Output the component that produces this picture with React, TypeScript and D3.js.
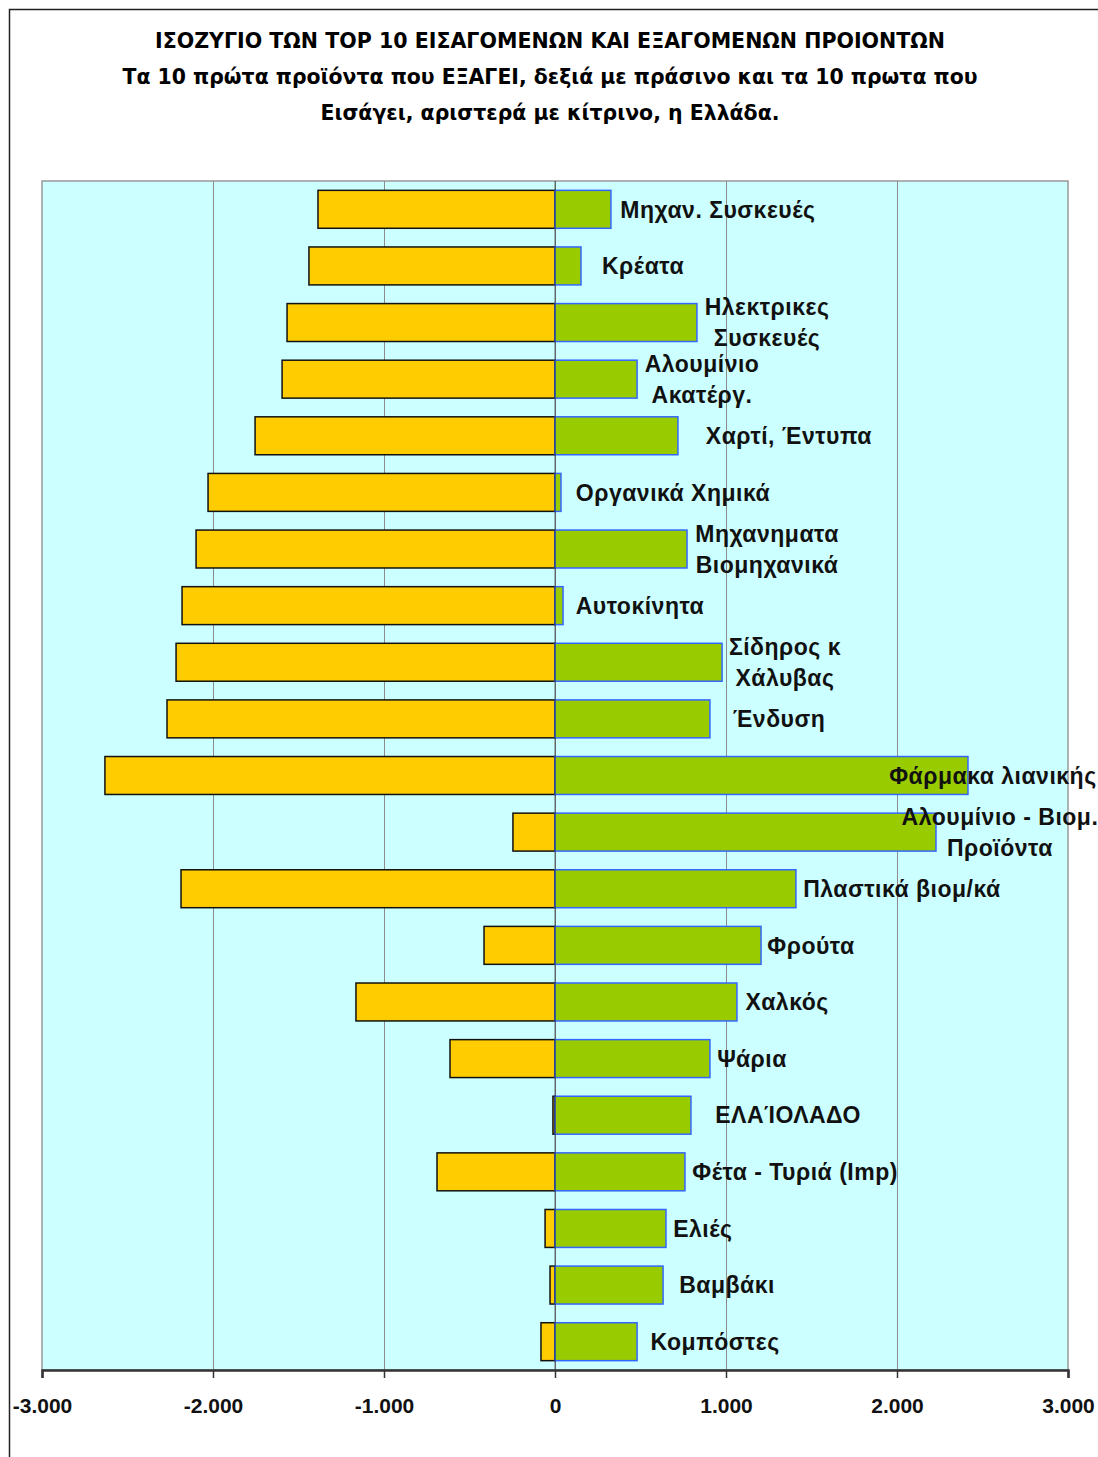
import { useEffect, useRef } from "react";
import * as d3 from "d3";

// categories top to bottom
const categories = [
  ["Μηχαν. Συσκευές"],
  ["Κρέατα"],
  ["Ηλεκτρικες", "Συσκευές"],
  ["Αλουμίνιο", "Ακατέργ."],
  ["Χαρτί, Έντυπα"],
  ["Οργανικά Χημικά"],
  ["Μηχανηματα", "Βιομηχανικά"],
  ["Αυτοκίνητα"],
  ["Σίδηρος κ", "Χάλυβας"],
  ["Ένδυση"],
  ["Φάρμακα λιανικής"],
  ["Αλουμίνιο - Βιομ.", "Προϊόντα"],
  ["Πλαστικά βιομ/κά"],
  ["Φρούτα"],
  ["Χαλκός"],
  ["Ψάρια"],
  ["ΕΛΑΙ\u0301ΟΛΑΔΟ"],
  ["Φέτα - Τυριά (Imp)"],
  ["Ελιές"],
  ["Βαμβάκι"],
  ["Κομπόστες"],
];

// imports (negative, yellow) and exports (positive, green)
const imports = [
  -1386, -1439, -1567, -1596, -1754, -2029, -2099, -2181, -2216, -2269, -2632,
  -246, -2187, -415, -1164, -614, -12, -690, -58, -29, -82,
];
const exportsData = [
  327, 152, 830, 480, 719, 35, 772, 47, 977, 906, 2415, 2228, 1409, 1205, 1064,
  906, 795, 760, 649, 632, 480,
];

// where each category label is centred, on the value axis
const labelAt = [
  953, 515, 1240, 860, 1368, 690, 1240, 497, 1345, 1310, 2561, 2602, 2029, 1497,
  1357, 1152, 1363, 1404, 865, 1006, 936,
];

const tickValues = [-3000, -2000, -1000, 0, 1000, 2000, 3000];

const titleLines = [
  "ΙΣΟΖΥΓΙΟ ΤΩΝ TOP 10  ΕΙΣΑΓΟΜΕΝΩΝ ΚΑΙ ΕΞΑΓΟΜΕΝΩΝ ΠΡΟΙΟΝΤΩΝ",
  "Τα 10 πρώτα προϊόντα που ΕΞΑΓΕΙ, δεξιά με πράσινο και τα 10 πρωτα  που",
  "Εισάγει, αριστερά με κίτρινο, η Ελλάδα.",
];

export default function App() {
  const svgRef = useRef<SVGSVGElement>(null);

  useEffect(() => {
    if (!svgRef.current) return;
    const svg = d3.select(svgRef.current);
    svg.selectAll("*").remove();

    const W = 1098;
    const H = 1457;
    const plot = { left: 42, right: 1068, top: 181, bottom: 1370 };

    // outer frame
    svg
      .append("rect")
      .attr("x", 9.5)
      .attr("y", 9.5)
      .attr("width", W)
      .attr("height", H)
      .attr("fill", "#fff")
      .attr("stroke", "#222")
      .attr("stroke-width", 1.5);

    // title
    const titleWidths = [790, 855, 459];
    titleLines.forEach((t, i) => {
      svg
        .append("text")
        .attr("x", 550)
        .attr("y", 48 + i * 36)
        .attr("text-anchor", "middle")
        .attr("textLength", titleWidths[i])
        .attr("lengthAdjust", "spacingAndGlyphs")
        .style("font-family", "'Liberation Sans Narrow', 'DejaVu Sans Condensed', sans-serif")
        .style("font-weight", "bold")
        .style("font-size", "22px")
        .text(t);
    });

    const x = d3
      .scaleLinear()
      .domain([-3000, 3000])
      .range([plot.left, plot.right]);

    const y = d3
      .scaleBand<number>()
      .domain(d3.range(categories.length))
      .range([plot.top, plot.bottom])
      .paddingInner(0.33)
      .paddingOuter(0.165);

    // plot background
    svg
      .append("rect")
      .attr("x", plot.left)
      .attr("y", plot.top)
      .attr("width", plot.right - plot.left)
      .attr("height", plot.bottom - plot.top)
      .attr("fill", "#CCFFFF")
      .attr("stroke", "#999")
      .attr("stroke-width", 1.5);

    // gridlines
    svg
      .append("g")
      .selectAll("line")
      .data(tickValues.slice(1, -1))
      .enter()
      .append("line")
      .attr("x1", (d) => x(d) + 0.5)
      .attr("x2", (d) => x(d) + 0.5)
      .attr("y1", plot.top)
      .attr("y2", plot.bottom)
      .attr("stroke", "#8c8c8c")
      .attr("stroke-width", 1);

    // import bars
    svg
      .append("g")
      .selectAll("rect")
      .data(imports)
      .enter()
      .append("rect")
      .attr("x", (d) => x(d))
      .attr("y", (_, i) => y(i)!)
      .attr("width", (d) => x(0) - x(d))
      .attr("height", y.bandwidth())
      .attr("fill", "#FFCC00")
      .attr("stroke", "#111")
      .attr("stroke-width", 1.5);

    // export bars
    svg
      .append("g")
      .selectAll("rect")
      .data(exportsData)
      .enter()
      .append("rect")
      .attr("x", x(0))
      .attr("y", (_, i) => y(i)!)
      .attr("width", (d) => x(d) - x(0))
      .attr("height", y.bandwidth())
      .attr("fill", "#99CC00")
      .attr("stroke", "#3366FF")
      .attr("stroke-width", 1.5);

    // zero line over the bars
    svg
      .append("line")
      .attr("x1", x(0))
      .attr("x2", x(0))
      .attr("y1", plot.top)
      .attr("y2", plot.bottom)
      .attr("stroke", "#111")
      .attr("stroke-width", 1)
      .attr("stroke-opacity", 0.6);

    // category labels
    const labels = svg.append("g");
    categories.forEach((lines, i) => {
      const cy = y(i)! + y.bandwidth() / 2;
      const lh = 31;
      lines.forEach((line, j) => {
        labels
          .append("text")
          .attr("x", x(labelAt[i]))
          .attr("y", cy + (j - (lines.length - 1) / 2) * lh)
          .attr("dy", "0.36em")
          .attr("text-anchor", "middle")
          .style("font-family", "'Liberation Sans', Arial, sans-serif")
          .style("font-weight", "bold")
          .style("font-size", "23px")
          .style("letter-spacing", "0.5px")
          .style("fill", "#111")
          .text(line);
      });
    });

    // x axis
    const locale = d3.formatLocale({
      decimal: ",",
      thousands: ".",
      grouping: [3],
      currency: ["€", ""],
      minus: "-",
    });
    const axis = svg
      .append("g")
      .attr("transform", `translate(0,${plot.bottom})`)
      .call(
        d3
          .axisBottom(x)
          .tickValues(tickValues)
          .tickSize(8)
          .tickPadding(20)
          .tickFormat(locale.format(",d") as any)
      );
    axis.select(".domain").attr("stroke", "#333").attr("stroke-width", 2.5);
    axis.selectAll(".tick line").attr("stroke", "#333").attr("stroke-width", 1.5);
    axis
      .selectAll(".tick text")
      .style("font-family", "'Liberation Sans', Arial, sans-serif")
      .style("font-weight", "bold")
      .style("font-size", "21px")
      .style("fill", "#111");
  }, []);

  return (
    <svg
      ref={svgRef}
      width={1098}
      height={1457}
      style={{ position: "absolute", left: 0, top: 0, background: "#fff" }}
    ></svg>
  );
}
